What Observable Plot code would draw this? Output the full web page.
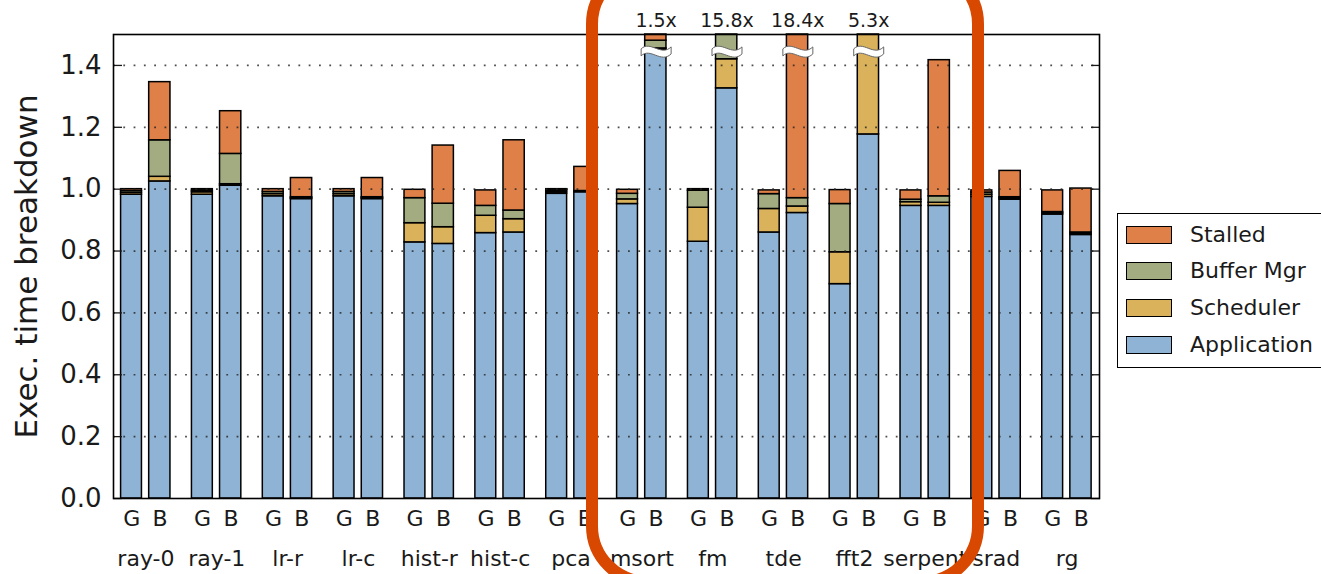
<!DOCTYPE html>
<html>
<head>
<meta charset="utf-8">
<script src="https://cdn.jsdelivr.net/npm/d3@7"></script>
<script src="https://cdn.jsdelivr.net/npm/@observablehq/plot@0.6"></script>
<style>
html, body { margin: 0; padding: 0; background: #fff; overflow: hidden; }
#wrap { position: relative; width: 1321px; height: 574px; overflow: hidden; font-family: "DejaVu Sans", sans-serif; }
#chart { position: absolute; left: 0; top: 0; }
#legend { position: absolute; left: 1117px; top: 213px; width: 240px; height: 155px; box-sizing: border-box; border: 1.6px solid #000; background: #fff; }
.item { position: absolute; left: 8px; height: 20px; display: flex; align-items: center; white-space: nowrap; }
.sw { width: 46px; height: 18px; box-sizing: border-box; border: 1.6px solid #000; margin-right: 18px; }
.lab { font-size: 22px; color: #1a1a1a; line-height: 20px; }
#hl { position: absolute; left: 586px; top: -38px; width: 398px; height: 626px; box-sizing: border-box; border: 12.5px solid #d94801; border-radius: 62px; }
</style>
</head>
<body>
<div id="wrap">
  <div id="chart"></div>
  <div id="legend"></div>
  <div id="hl"></div>
</div>
<script>
// ---- data ----
const groups = ["ray-0","ray-1","lr-r","lr-c","hist-r","hist-c","pca","msort","fm","tde","fft2","serpent","srad","rg"];
const components = ["Application","Scheduler","Buffer Mgr","Stalled"];
const colors = ["#8fb3d5","#dbb25c","#a3ac81","#df8048"];

// G configuration
const appG   = [0.982,0.982,0.977,0.977,0.828,0.858,0.985,0.952,0.830,0.860,0.693,0.946,0.975,0.918];
const schedG = [0.006,0.008,0.007,0.007,0.062,0.056,0.005,0.015,0.110,0.076,0.103,0.012,0.007,0.004];
const bufG   = [0.006,0.005,0.007,0.007,0.081,0.032,0.005,0.018,0.055,0.048,0.156,0.008,0.007,0.004];
const stallG = [0.006,0.005,0.009,0.009,0.027,0.050,0.005,0.013,0.005,0.012,0.045,0.030,0.007,0.070];

// B configuration
const appB   = [1.025,1.011,0.968,0.968,0.823,0.860,0.990,1.450,1.326,0.923,1.177,0.946,0.966,0.852];
const schedB = [0.015,0.005,0.003,0.003,0.054,0.043,0.002,0.005,0.094,0.021,4.123,0.010,0.004,0.004];
const bufB   = [0.118,0.098,0.003,0.003,0.076,0.028,0.002,0.025,14.38,0.027,0.000,0.021,0.004,0.004];
const stallB = [0.188,0.138,0.062,0.062,0.188,0.227,0.078,0.020,0.000,17.43,0.000,0.440,0.085,0.142];

// bars exceeding the axis
const overGroups = ["msort","fm","tde","fft2"];
const overLabels = ["1.5x","15.8x","18.4x","5.3x"];

const yTicks = [0,0.2,0.4,0.6,0.8,1.0,1.2,1.4];
const gridTicks = [0.2,0.4,0.6,0.8,1.0,1.2,1.4];
const yMax = 1.5;
const breakLevel = 1.447;

// ---- tables ----
const rowsG = [], rowsB = [];
groups.forEach((g, i) => {
  const G = [appG[i], schedG[i], bufG[i], stallG[i]];
  const B = [appB[i], schedB[i], bufB[i], stallB[i]];
  components.forEach((c, k) => {
    if (G[k] > 0) rowsG.push({group: g, comp: c, value: G[k]});
    if (B[k] > 0) rowsB.push({group: g, comp: c, value: B[k]});
  });
});
const over = overGroups.map((g, i) => ({group: g, label: overLabels[i]}));

const wave = {
  draw(ctx) {
    ctx.moveTo(-15, -2);
    ctx.bezierCurveTo(-6, -11, 5, 6, 15, -4);
    ctx.lineTo(15, 3);
    ctx.bezierCurveTo(5, 13, -6, -4, -15, 5);
    ctx.closePath();
  }
};

const off = 14.2;
const barStyle = {stroke: "#000", strokeWidth: 1.5};

const chart = Plot.plot({
  width: 1321,
  height: 574,
  marginLeft: 113,
  marginRight: 222,
  marginTop: 34,
  marginBottom: 76,
  style: {fontFamily: "DejaVu Sans, sans-serif", background: "white", overflow: "visible", color: "#1a1a1a"},
  x: {domain: groups, paddingInner: 0.285, paddingOuter: 0.1, round: false, label: null},
  y: {domain: [0, yMax], clamp: true, label: null},
  color: {domain: components, range: colors},
  marks: [
    Plot.barY(rowsG, Plot.stackY({x: "group", y: "value", fill: "comp", insetLeft: 0.5, insetRight: 29.3, ...barStyle})),
    Plot.barY(rowsB, Plot.stackY({x: "group", y: "value", fill: "comp", insetLeft: 28.6, insetRight: 0.8, ...barStyle})),
    Plot.gridY(gridTicks, {stroke: "#222", strokeOpacity: 0.8, strokeWidth: 1.7, strokeDasharray: "1.8,8.5"}),
    Plot.dot(over, {x: "group", y: () => breakLevel, dx: off, symbol: wave, r: 8, fill: "white", stroke: "#666", strokeWidth: 1}),
    Plot.text(over, {x: "group", y: () => yMax, dx: off, dy: -14, text: "label", fontSize: 19, fill: "#1a1a1a"}),
    Plot.axisY(yTicks, {tickSize: 0, tickPadding: 12, fontSize: 26, tickFormat: d3.format(".1f"), label: null}),
    Plot.axisY(yTicks, {tickSize: 9, dx: 9, tickFormat: () => "", label: null, strokeWidth: 1.3}),
    Plot.axisY(yTicks, {anchor: "right", tickSize: 9, dx: -9, tickFormat: () => "", label: null, strokeWidth: 1.3}),
    Plot.axisX({tickSize: 0, tickPadding: 52, fontSize: 22, label: null}),
    Plot.axisX({tickSize: 0, tickPadding: 12, fontSize: 22, label: null, tickFormat: () => "G", dx: -off}),
    Plot.axisX({tickSize: 0, tickPadding: 12, fontSize: 22, label: null, tickFormat: () => "B", dx: off}),
    Plot.text(["Exec. time breakdown"], {frameAnchor: "left", textAnchor: "middle", rotate: -90, dx: -86, fontSize: 31, fill: "#1a1a1a"}),
    Plot.frame({stroke: "#000", strokeWidth: 1.6})
  ]
});
document.getElementById("chart").appendChild(chart);

// legend (top to bottom: reversed stack order)
const legend = document.getElementById("legend");
const tops = [11, 47, 84, 121];
components.slice().reverse().forEach((c, i) => {
  const col = colors[components.indexOf(c)];
  const it = document.createElement("div");
  it.className = "item";
  it.style.top = tops[i] + "px";
  it.innerHTML = `<div class="sw" style="background:${col}"></div><span class="lab">${c}</span>`;
  legend.appendChild(it);
});
</script>
</body>
</html>
